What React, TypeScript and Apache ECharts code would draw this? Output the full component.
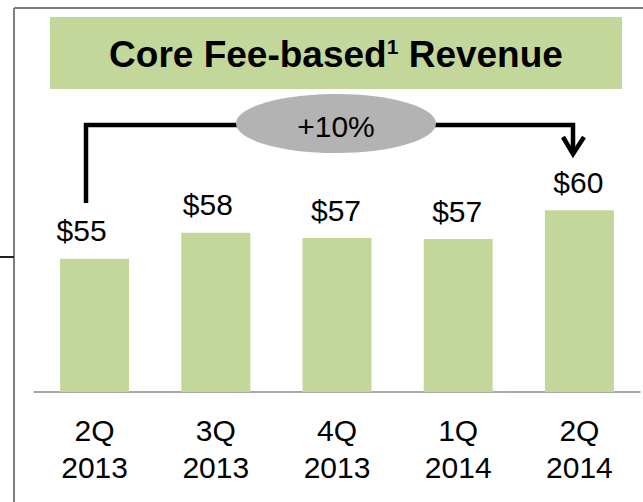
import React, { useEffect, useRef } from "react";
import * as echarts from "echarts";

const quarters = ["2Q", "3Q", "4Q", "1Q", "2Q"];
const years = ["2013", "2013", "2013", "2014", "2014"];
const revenue = [54.8, 57.7, 57.1, 57.0, 60.2];
const labelShiftX = [-13, -8, -1, -1, -1];
const growthLabel = "+10%";
const titleMain = "Core Fee-based";
const titleSup = "1";
const titleTail = " Revenue";

const FONT = "'Liberation Sans', Arial, Helvetica, sans-serif";
const GREEN = "#c4d79b";

export default function App() {
  const ref = useRef<HTMLDivElement>(null);
  useEffect(() => {
    if (!ref.current) return;
    const chart = echarts.init(ref.current, undefined, { renderer: "svg" });
    const categories = quarters.map((q, i) => q + "\n" + years[i]);
    chart.setOption({
      animation: false,
      backgroundColor: "#ffffff",
      grid: { left: 34, right: 3, top: 122, bottom: 110, containLabel: false },
      xAxis: {
        type: "category",
        data: categories,
        axisLine: { show: true, lineStyle: { color: "#8c8c8c", width: 1.5 } },
        axisTick: { show: false },
        axisLabel: {
          color: "#000",
          fontSize: 30,
          lineHeight: 37,
          fontFamily: FONT,
          margin: 20,
          interval: 0,
        },
      },
      yAxis: {
        type: "value",
        min: 40,
        max: 70,
        show: false,
        splitLine: { show: false },
      },
      series: [
        {
          type: "bar",
          barWidth: 69,
          itemStyle: { color: GREEN },
          data: revenue.map((v, i) => ({
            value: v,
            label: { offset: [labelShiftX[i], 0] },
          })),
          label: {
            show: true,
            position: "top",
            distance: 13,
            color: "#000",
            fontSize: 30,
            fontFamily: FONT,
            formatter: (p: any) => "$" + Math.round(p.value),
          },
        },
      ],
      graphic: [
        // frame
        { type: "line", shape: { x1: 14, y1: 8, x2: 643, y2: 8 }, style: { stroke: "#7f7f7f", lineWidth: 2 } },
        { type: "line", shape: { x1: 14, y1: 8, x2: 14, y2: 502 }, style: { stroke: "#7f7f7f", lineWidth: 2 } },
        { type: "line", shape: { x1: 0, y1: 257, x2: 14, y2: 257 }, style: { stroke: "#222", lineWidth: 2 } },
        // title box
        { type: "rect", shape: { x: 50, y: 17, width: 572, height: 72 }, style: { fill: GREEN } },
        {
          type: "text",
          x: 336,
          y: 54,
          style: {
            text: "{a|" + titleMain + "}{s|" + titleSup + "}{a|" + titleTail + "}",
            align: "center",
            verticalAlign: "middle",
            rich: {
              a: { fontSize: 37, fontWeight: "bold", fontFamily: FONT, fill: "#000" },
              s: { fontSize: 21, fontWeight: "bold", fontFamily: FONT, fill: "#000", padding: [0, 0, 15, 0] },
            },
          },
        },
        // bracket
        {
          type: "polyline",
          shape: { points: [[86, 203], [86, 125], [573, 125], [573, 152]] },
          style: { stroke: "#000", lineWidth: 4.5, fill: "none", lineJoin: "miter" },
          z: 10,
        },
        {
          type: "polyline",
          shape: { points: [[563, 137], [573, 154], [584, 137]] },
          style: { stroke: "#000", lineWidth: 4.5, fill: "none", lineJoin: "miter" },
          z: 10,
        },
        {
          type: "ellipse",
          shape: { cx: 336, cy: 123.5, rx: 100, ry: 29.5 },
          style: { fill: "#b3b3b3" },
          z: 11,
        },
        {
          type: "text",
          x: 336,
          y: 126,
          z: 12,
          style: {
            text: growthLabel,
            align: "center",
            verticalAlign: "middle",
            fontSize: 30,
            fontFamily: FONT,
            fill: "#000",
          },
        },
      ],
    });
    return () => chart.dispose();
  }, []);
  return (
    <div
      ref={ref}
      style={{ position: "fixed", left: 0, top: 0, width: 643, height: 502 }}
    />
  );
}
